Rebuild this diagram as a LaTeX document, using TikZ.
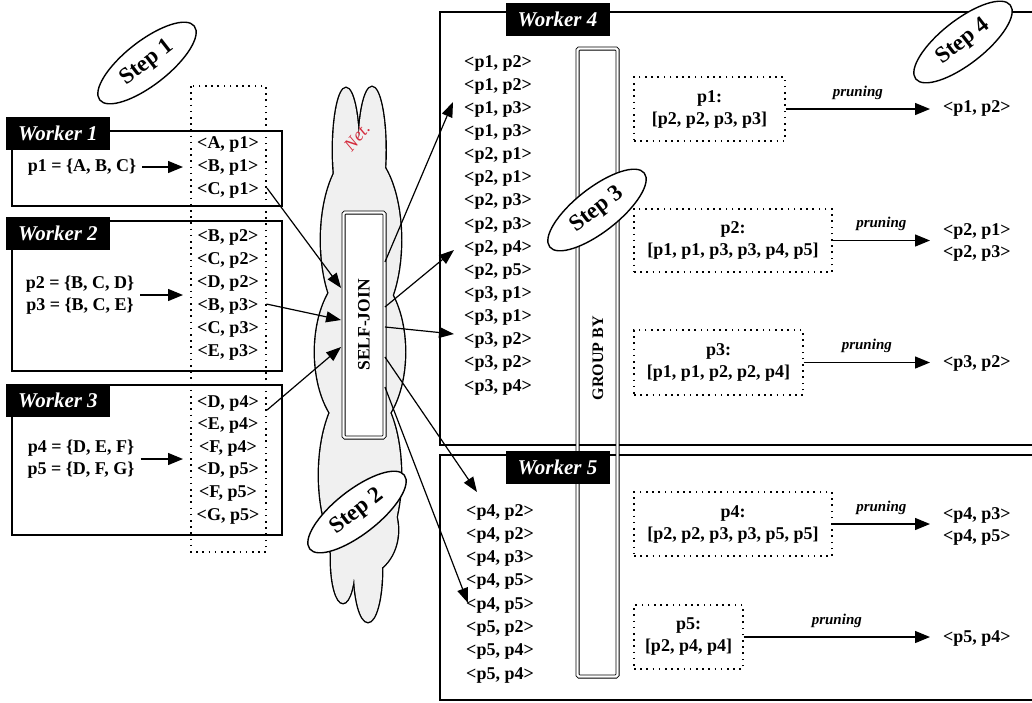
\documentclass[tikz,border=0pt]{standalone}
\usepackage{fontspec}
\setmainfont{Liberation Serif}
\usetikzlibrary{arrows.meta,shapes.geometric,calc}
\definecolor{cloudgray}{HTML}{F0F0F0}
\definecolor{netred}{HTML}{D42A3C}
\begin{document}
\begin{tikzpicture}[x=1pt,y=-1pt,
  box/.style={draw, line width=1.4pt},
  wlabel/.style={fill=black, text=white, font=\fontsize{21}{24}\selectfont\bfseries\itshape, minimum width=104pt, minimum height=33pt, inner sep=0pt},
  item/.style={font=\fontsize{18}{22}\selectfont\bfseries, inner sep=0pt},
  dotbox/.style={draw, line width=1.3pt, dash pattern=on 1.6pt off 4.6pt},
  arr/.style={line width=1.2pt, -{Triangle[length=15pt,width=11pt]}},
  sarr/.style={line width=1.3pt, -{Triangle[length=15pt,width=12pt]}},
  stepel/.style={ellipse, draw, fill=white, line width=1.4pt, minimum width=120pt, minimum height=44pt, inner sep=0pt, rotate=38, font=\fontsize{23}{25}\selectfont\bfseries},
  dbar/.style={draw, line width=0.9pt, double, double distance=2.2pt, inner sep=0pt, rounded corners=1.5pt},
  prune/.style={font=\fontsize{15}{17}\selectfont\bfseries\itshape, inner sep=0pt},
  lobe/.style={line width=2.8pt}
]
\useasboundingbox (0,0) rectangle (1032,702);

% ---------- Workers 1-3 ----------
\draw[box] (12,131) rectangle (282,206);
\draw[box] (12,221) rectangle (282,371);
\draw[box] (12,385) rectangle (282,535);
\draw[dotbox] (191,86) rectangle (266,552);

\node[wlabel] (w1) at (58,133) {Worker 1};
\node[wlabel] (w2) at (58,233.5) {Worker 2};
\node[wlabel] (w3) at (58,400) {Worker 3};

\foreach \t [count=\i] in {{<A, p1>},{<B, p1>},{<C, p1>}}
  \node[item] (a\i) at (228,{121+23*\i}) {\t};
\foreach \t [count=\i] in {{<B, p2>},{<C, p2>},{<D, p2>},{<B, p3>},{<C, p3>},{<E, p3>}}
  \node[item] (b\i) at (228,{214+23*\i}) {\t};
\foreach \t [count=\i] in {{<D, p4>},{<E, p4>},{<F, p4>},{<D, p5>},{<F, p5>},{<G, p5>}}
  \node[item] (c\i) at (228,{380.5+22.6*\i}) {\t};

\node[item, align=center] (e1) at (82,167) {p1 = \{A, B, C\}};
\node[item, align=center] (e2) at (80,295) {p2 = \{B, C, D\}\\p3 = \{B, C, E\}};
\node[item, align=center] (e3) at (81,459) {p4 = \{D, E, F\}\\p5 = \{D, F, G\}};

\coordinate (colL) at (183,0);
\draw[sarr] ($(e1.east)+(6,0)$) -- (e1.east -| colL);
\draw[sarr] ($(e2.east)+(6,0)$) -- (e2.east -| colL);
\draw[sarr] ($(e3.east)+(6,0)$) -- (e3.east -| colL);

% ---------- Cloud ----------
\def\cloudparts{346/150/13/62, 372/150/13.5/63, 361/240/40/90, 360/352/45/82, 360/475/41/92, 362/530/36/45, 343/560/12/43, 368/570/14/52}
\foreach \cx/\cy/\rx/\ry in \cloudparts
  \draw[lobe] (\cx,\cy) ellipse [x radius=\rx, y radius=\ry];
\foreach \cx/\cy/\rx/\ry in \cloudparts
  \fill[cloudgray] (\cx,\cy) ellipse [x radius=\rx, y radius=\ry];
\node[text=netred, rotate=50, font=\fontsize{18}{20}\selectfont\itshape, inner sep=0pt] (net) at (357,137) {Net.};

% ---------- SELF-JOIN ----------
\node[dbar, fill=white, minimum width=41pt, minimum height=225pt] (sj) at (364,325) {};
\node[rotate=90, font=\fontsize{17.5}{20}\selectfont\bfseries, inner sep=0pt] (sjt) at (sj) {SELF-JOIN};

\draw[arr] ($(a3.east)+(8,-2)$) -- ($(sj.west)+(-2,-37)$);
\draw[arr] ($(b4.east)+(8,-2)$) -- ($(sj.west)+(-2,-5)$);
\draw[arr] ($(c1.east)+(8,7)$) -- ($(sj.west)+(-2,22)$);

\coordinate (t1) at (453,102);
\coordinate (t2) at (454,250);
\coordinate (t3) at (454,334);
\coordinate (t4) at (477,492);
\coordinate (t5) at (468,603);
\draw[arr] ($(sj.east)+(0,-63)$) -- (t1);
\draw[arr] ($(sj.east)+(0,-18)$) -- (t2);
\draw[arr] ($(sj.east)+(0,2)$) -- (t3);
\draw[arr] ($(sj.east)+(0,32)$) -- (t4);
\draw[arr] ($(sj.east)+(0,62)$) -- (t5);

\node[stepel] (s1) at (147,63) {Step 1};
\node[stepel] (s2) at (357,512) {Step 2};

% ---------- Workers 4-5 ----------
\draw[box] (1034,12) -- (440,12) -- (440,445) -- (1034,445);
\draw[box] (1034,455) -- (440,455) -- (440,700) -- (1034,700);

\node[dbar, minimum width=40pt, minimum height=628pt] (gb) at (597.5,362.5) {};
\node[rotate=90, font=\fontsize{16}{18}\selectfont\bfseries, inner sep=0pt] (gbt) at (598,358) {GROUP BY};

\node[wlabel] (w4) at (557.5,19.5) {Worker 4};
\node[wlabel] (w5) at (557.5,467.5) {Worker 5};

\foreach \t [count=\i] in {{<p1, p2>},{<p1, p2>},{<p1, p3>},{<p1, p3>},{<p2, p1>},{<p2, p1>},{<p2, p3>},{<p2, p3>},{<p2, p4>},{<p2, p5>},{<p3, p1>},{<p3, p1>},{<p3, p2>},{<p3, p2>},{<p3, p4>}}
  \node[item] (l\i) at (498,{39.9+23.14*\i}) {\t};
\foreach \t [count=\i] in {{<p4, p2>},{<p4, p2>},{<p4, p3>},{<p4, p5>},{<p4, p5>},{<p5, p2>},{<p5, p4>},{<p5, p4>}}
  \node[item] (m\i) at (500,{488.7+23.3*\i}) {\t};

\node[stepel] (s3) at (597,210) {Step 3};
\node[stepel] (s4) at (963,42) {Step 4};

% ---------- Group boxes ----------
\node[dotbox, item, align=center, minimum width=151pt, minimum height=64pt] (g1) at (709.5,109) {p1:\\{}[p2, p2, p3, p3]};
\node[dotbox, item, align=center, minimum width=198pt, minimum height=63pt] (g2) at (733,240.5) {p2:\\{}[p1, p1, p3, p3, p4, p5]};
\node[dotbox, item, align=center, minimum width=169pt, minimum height=65pt] (g3) at (718.5,362.5) {p3:\\{}[p1, p1, p2, p2, p4]};
\node[dotbox, item, align=center, minimum width=198pt, minimum height=64pt] (g4) at (733,524) {p4:\\{}[p2, p2, p3, p3, p5, p5]};
\node[dotbox, item, align=center, minimum width=109pt, minimum height=64pt] (g5) at (688.5,637) {p5:\\{}[p2, p4, p4]};

\node[item, anchor=west] (o1) at (943,108) {<p1, p2>};
\node[item, anchor=west, align=left] (o2) at (943,242.5) {<p2, p1>\\<p2, p3>};
\node[item, anchor=west] (o3) at (943,363) {<p3, p2>};
\node[item, anchor=west, align=left] (o4) at (943,526.5) {<p4, p3>\\<p4, p5>};
\node[item, anchor=west] (o5) at (943,638) {<p5, p4>};

\coordinate (tipx) at (930,0);
\draw[sarr] (g1.east) -- node[prune, above=9pt] (pr1) {pruning} (g1.east -| tipx);
\draw[sarr] (g2.east) -- node[prune, above=9pt] (pr2) {pruning} (g2.east -| tipx);
\draw[sarr] (g3.east) -- node[prune, above=9pt] (pr3) {pruning} (g3.east -| tipx);
\draw[sarr] (g4.east) -- node[prune, above=9pt] (pr4) {pruning} (g4.east -| tipx);
\draw[sarr] (g5.east) -- node[prune, above=9pt] (pr5) {pruning} (g5.east -| tipx);
\end{tikzpicture}
\end{document}
